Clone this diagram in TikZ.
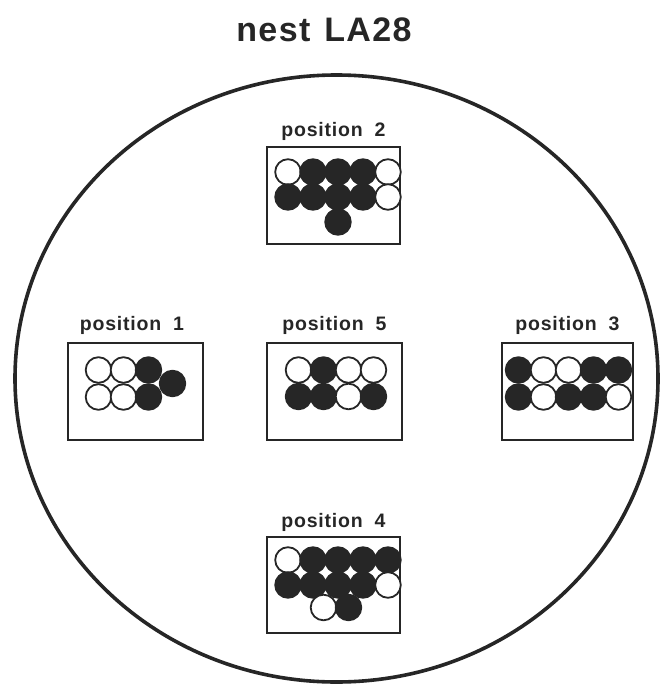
\documentclass[tikz,border=0pt]{standalone}
\usepackage{fontspec}
\setmainfont{Liberation Sans}
\newfontfamily\labfont[LetterSpace=4]{Liberation Sans}
\definecolor{ink}{RGB}{38,38,38}
\tikzset{
  wc/.style={draw=ink, fill=white, line width=1.8pt},
  bc/.style={draw=ink, fill=ink, line width=1.8pt},
  boxst/.style={draw=ink, line width=1.8pt},
  lab/.style={text=ink, font=\labfont\bfseries\fontsize{19.5}{22}\selectfont, anchor=base, inner sep=0pt},
}
\newcommand{\Wc}[2]{\draw[wc] (#1,#2) circle (12.8);}
\newcommand{\Bc}[2]{\draw[bc] (#1,#2) circle (12.8);}
\begin{document}
\begin{tikzpicture}[x=1pt,y=-1pt]
\useasboundingbox (0,0) rectangle (662,687);
% title
\node[text=ink, font=\labfont\bfseries\fontsize{34}{40}\selectfont, anchor=base, inner sep=0pt] (title) at (324,42) {nest\hspace{14pt}LA28};
% nest outline
\draw[draw=ink, line width=3.6pt] (336.5,378.5) ellipse [x radius=321.5, y radius=303.5];

% position 2
\node[lab] (l2) at (333.5,137) {position\hspace{12pt}2};
\draw[boxst] (267,147) rectangle (400,244);
\Wc{288}{172}\Bc{313}{172}\Bc{338}{172}\Bc{363}{172}\Wc{388}{172}
\Bc{288}{197}\Bc{313}{197}\Bc{338}{197}\Bc{363}{197}\Wc{388}{197}
\Bc{338}{222}

% position 1
\node[lab] (l1) at (132,330) {position\hspace{12pt}1};
\draw[boxst] (68,343) rectangle (203,440);
\Wc{98.5}{370}\Wc{123.5}{370}\Bc{148.5}{370}
\Wc{98.5}{397}\Wc{123.5}{397}\Bc{148.5}{397}
\Bc{172.5}{383.5}

% position 5
\node[lab] (l5) at (334.5,330) {position\hspace{12pt}5};
\draw[boxst] (267,343) rectangle (402,440);
\Wc{298.5}{370}\Bc{323.5}{370}\Wc{348.5}{370}\Wc{373.5}{370}
\Bc{298.5}{396.5}\Bc{323.5}{396.5}\Wc{348.5}{396.5}\Bc{373.5}{396.5}

% position 3
\node[lab] (l3) at (567.5,330) {position\hspace{12pt}3};
\draw[boxst] (502,343) rectangle (633,440);
\Bc{518.5}{370}\Wc{543.5}{370}\Wc{568.5}{370}\Bc{593.5}{370}\Bc{618.5}{370}
\Bc{518.5}{397}\Wc{543.5}{397}\Bc{568.5}{397}\Bc{593.5}{397}\Wc{618.5}{397}

% position 4
\node[lab] (l4) at (333.5,527) {position\hspace{12pt}4};
\draw[boxst] (267,537) rectangle (400,633);
\Wc{288}{560}\Bc{313}{560}\Bc{338}{560}\Bc{363}{560}\Bc{388}{560}
\Bc{288}{585}\Bc{313}{585}\Bc{338}{585}\Bc{363}{585}\Wc{388}{585}
\Wc{323.5}{607.5}\Bc{348.5}{607.5}
\end{tikzpicture}
\end{document}
